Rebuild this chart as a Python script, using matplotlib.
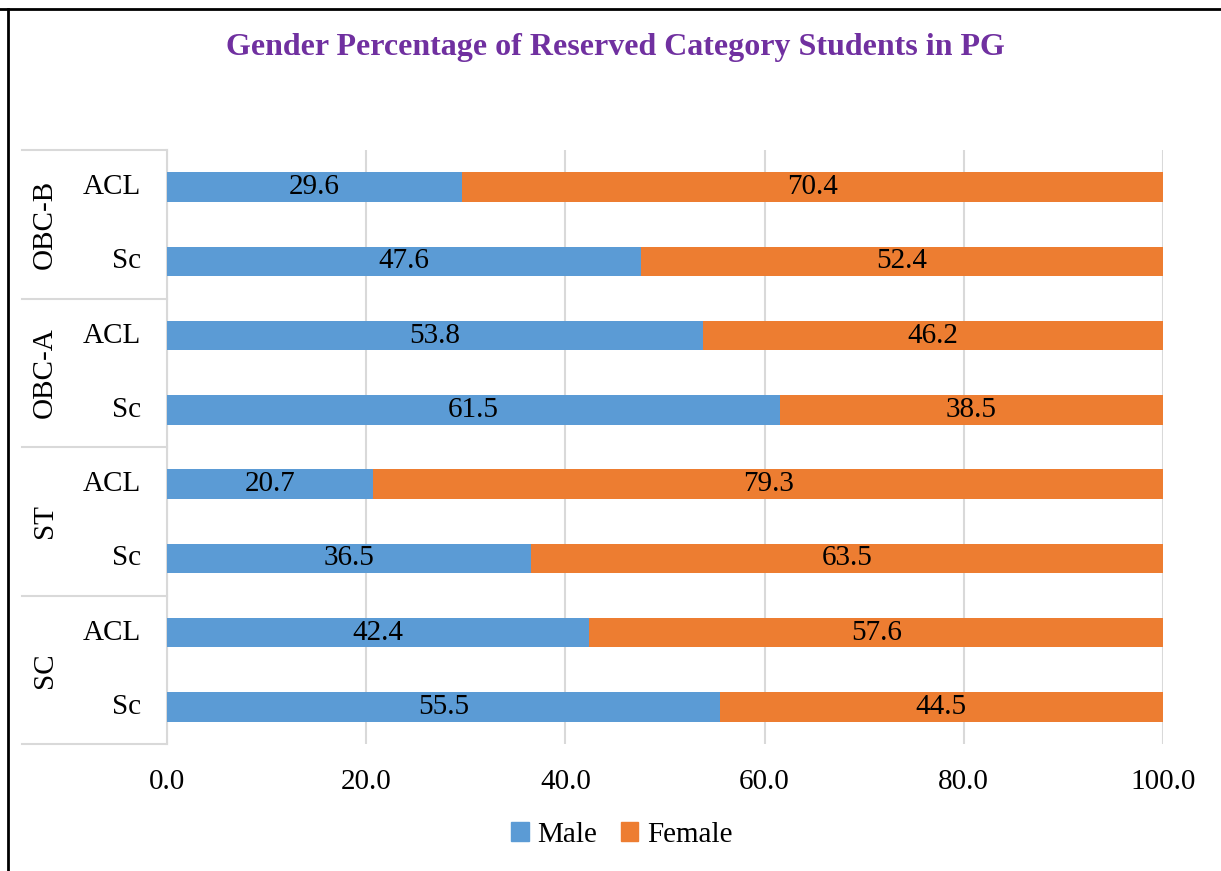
import matplotlib
matplotlib.use("Agg")
import matplotlib.pyplot as plt
from matplotlib.lines import Line2D
from matplotlib.patches import Patch

plt.rcParams['font.family'] = ['Liberation Serif', 'DejaVu Serif']

groups = ["OBC-B", "OBC-A", "ST", "SC"]
subs = ["ACL", "Sc"]
male = [29.6, 47.6, 53.8, 61.5, 20.7, 36.5, 42.4, 55.5]
female = [70.4, 52.4, 46.2, 38.5, 79.3, 63.5, 57.6, 44.5]
xticks = [0, 20, 40, 60, 80, 100]

W, H = 1221, 871
fig = plt.figure(figsize=(W / 100, H / 100), dpi=100)
L, R, T, B = 167, 1163, 150, 744
ax = fig.add_axes([L / W, 1 - B / H, (R - L) / W, (B - T) / H])

FS = 21
n = len(male)
ypos = [n - 1 - i for i in range(n)]
blue, orange = "#5B9BD5", "#ED7D31"
ax.barh(ypos, male, height=0.4, color=blue, zorder=3)
ax.barh(ypos, female, left=male, height=0.4, color=orange, zorder=3)
for y, m, f in zip(ypos, male, female):
    ax.text(m / 2, y, f"{m:.1f}", ha="center", va="center", fontsize=FS, zorder=4)
    ax.text(m + f / 2, y, f"{f:.1f}", ha="center", va="center", fontsize=FS, zorder=4)

ax.set_xlim(0, 100)
ax.set_ylim(-0.5, n - 0.5)
ax.set_xticks(xticks)
ax.set_xticklabels([f"{v:.1f}" for v in xticks], fontsize=FS)
ax.tick_params(axis="x", length=0, pad=18)
ax.set_yticks([])
ax.grid(axis="x", color="#D9D9D9", linewidth=1.5, zorder=0)
for s in ["top", "right", "bottom"]:
    ax.spines[s].set_visible(False)
ax.spines["left"].set_color("#D9D9D9")
ax.spines["left"].set_linewidth(1.5)

# multi-level category axis
xl = (22 - L) / (R - L)
trans = ax.get_yaxis_transform()
bounds = [n - 0.5 - 2 * k for k in range(len(groups) + 1)]
for b in bounds:
    ax.add_line(Line2D([xl, 0], [b, b], transform=trans, color="#D9D9D9", lw=1.5, clip_on=False))
xsub = (141 - L) / (R - L)
xgrp = (45 - L) / (R - L)
for gi, g in enumerate(groups):
    y0 = n - 1 - 2 * gi
    for si, s in enumerate(subs):
        ax.text(xsub, y0 - si, s, transform=trans, ha="right", va="center", fontsize=FS)
    ax.text(xgrp, y0 - 0.5, g, transform=trans, ha="center", va="center", rotation=90, fontsize=FS)

fig.text(615 / W, 1 - 48 / H, "Gender Percentage of Reserved Category Students in PG",
         ha="center", va="center", fontsize=23, fontweight="bold", color="#7030A0")

handles = [Patch(color=blue, label="Male"), Patch(color=orange, label="Female")]
fig.legend(handles=handles, loc="center", bbox_to_anchor=(622 / W, 1 - 835 / H), ncol=2,
           frameon=False, fontsize=FS, handlelength=0.6, handleheight=0.6, handletextpad=0.3,
           columnspacing=0.8)

# outer border (partial, as in reference)
fig.add_artist(Line2D([0, 1], [1 - 9 / H, 1 - 9 / H], transform=fig.transFigure, color="black", lw=2))
fig.add_artist(Line2D([8 / W, 8 / W], [0, 1 - 9 / H], transform=fig.transFigure, color="black", lw=2))

fig.savefig("out.png", dpi=100)
